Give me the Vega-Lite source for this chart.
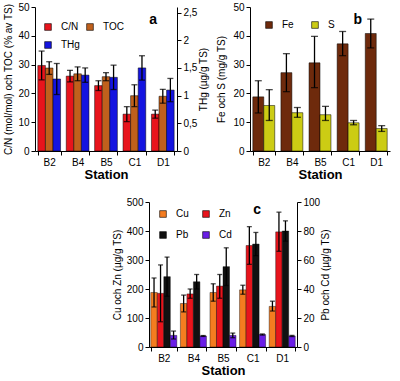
{
  "$schema": "https://vega.github.io/schema/vega-lite/v6.json",
  "padding": {"left": 3, "top": 2, "right": 2, "bottom": 2},
  "autosize": {"type": "pad"},
  "config": {
    "font": "Liberation Sans",
    "view": {"stroke": null},
    "axis": {"labelFontSize": 10, "titleFontSize": 10, "titleFontWeight": "normal", "domainColor": "#000", "tickColor": "#000", "labelColor": "#000", "titleColor": "#000", "grid": false, "tickSize": 4, "labelPadding": 2},
    "axisX": {"titleFontSize": 13, "titleFontWeight": "bold", "labelAngle": 0, "tickBand": "extent", "titlePadding": 1},
    "legend": {"labelFontSize": 10, "labelColor": "#000"}
  },
  "datasets": {
    "a": [
      {"station": "B2", "param": "C/N", "value": 29.7, "lo": 24.7, "hi": 34.7},
      {"station": "B4", "param": "C/N", "value": 26.0, "lo": 24.0, "hi": 28.0},
      {"station": "B5", "param": "C/N", "value": 22.7, "lo": 21.0, "hi": 24.4},
      {"station": "C1", "param": "C/N", "value": 12.8, "lo": 10.2, "hi": 15.4},
      {"station": "D1", "param": "C/N", "value": 12.8, "lo": 11.4, "hi": 14.2},
      {"station": "B2", "param": "TOC", "value": 28.8, "lo": 26.6, "hi": 31.0},
      {"station": "B4", "param": "TOC", "value": 26.8, "lo": 24.4, "hi": 29.2},
      {"station": "B5", "param": "TOC", "value": 25.8, "lo": 24.4, "hi": 27.2},
      {"station": "C1", "param": "TOC", "value": 19.2, "lo": 15.4, "hi": 23.0},
      {"station": "D1", "param": "TOC", "value": 19.0, "lo": 16.6, "hi": 21.4},
      {"station": "B2", "param": "THg", "value": 1.30, "lo": 1.02, "hi": 1.58},
      {"station": "B4", "param": "THg", "value": 1.37, "lo": 1.24, "hi": 1.50},
      {"station": "B5", "param": "THg", "value": 1.33, "lo": 1.11, "hi": 1.55},
      {"station": "C1", "param": "THg", "value": 1.50, "lo": 1.28, "hi": 1.72},
      {"station": "D1", "param": "THg", "value": 1.10, "lo": 0.89, "hi": 1.31}
    ],
    "b": [
      {"station": "B2", "elem": "Fe", "value": 18.8, "lo": 13.2, "hi": 24.4},
      {"station": "B4", "elem": "Fe", "value": 27.2, "lo": 20.6, "hi": 33.8},
      {"station": "B5", "elem": "Fe", "value": 30.6, "lo": 22.0, "hi": 39.8},
      {"station": "C1", "elem": "Fe", "value": 37.2, "lo": 33.1, "hi": 41.5},
      {"station": "D1", "elem": "Fe", "value": 40.8, "lo": 35.8, "hi": 45.8},
      {"station": "B2", "elem": "S", "value": 15.8, "lo": 10.6, "hi": 21.3},
      {"station": "B4", "elem": "S", "value": 13.3, "lo": 11.7, "hi": 15.1},
      {"station": "B5", "elem": "S", "value": 12.6, "lo": 10.6, "hi": 15.5},
      {"station": "C1", "elem": "S", "value": 9.8, "lo": 9.1, "hi": 10.6},
      {"station": "D1", "elem": "S", "value": 7.8, "lo": 6.8, "hi": 8.8}
    ],
    "c": [
      {"station": "B2", "metal": "Cu", "value": 188, "lo": 138, "hi": 238},
      {"station": "B4", "metal": "Cu", "value": 150, "lo": 121, "hi": 179},
      {"station": "B5", "metal": "Cu", "value": 188, "lo": 158, "hi": 218},
      {"station": "C1", "metal": "Cu", "value": 197, "lo": 182, "hi": 213},
      {"station": "D1", "metal": "Cu", "value": 140, "lo": 124, "hi": 158},
      {"station": "B2", "metal": "Zn", "value": 185, "lo": 87, "hi": 283},
      {"station": "B4", "metal": "Zn", "value": 183, "lo": 168, "hi": 200},
      {"station": "B5", "metal": "Zn", "value": 210, "lo": 168, "hi": 250},
      {"station": "C1", "metal": "Zn", "value": 350, "lo": 285, "hi": 415},
      {"station": "D1", "metal": "Zn", "value": 397, "lo": 330, "hi": 465},
      {"station": "B2", "metal": "Pb", "value": 48.5, "lo": 35, "hi": 62},
      {"station": "B4", "metal": "Pb", "value": 45, "lo": 40, "hi": 50},
      {"station": "B5", "metal": "Pb", "value": 55.4, "lo": 42.4, "hi": 68.4},
      {"station": "C1", "metal": "Pb", "value": 71, "lo": 63, "hi": 79},
      {"station": "D1", "metal": "Pb", "value": 80, "lo": 73, "hi": 87},
      {"station": "B2", "metal": "Cd", "value": 8, "lo": 5.5, "hi": 11},
      {"station": "B4", "metal": "Cd", "value": 7.6, "lo": 7.3, "hi": 7.9},
      {"station": "B5", "metal": "Cd", "value": 8, "lo": 6.4, "hi": 9.6},
      {"station": "C1", "metal": "Cd", "value": 8.6, "lo": 8.2, "hi": 9.0},
      {"station": "D1", "metal": "Cd", "value": 7.6, "lo": 7.2, "hi": 8.0}
    ]
  },
  "spacing": 16,
  "resolve": {"scale": {"x": "independent", "y": "independent", "xOffset": "independent", "color": "independent"}, "legend": {"color": "independent"}},
  "vconcat": [
    {
      "spacing": 7,
      "resolve": {"scale": {"x": "independent", "y": "independent", "xOffset": "independent", "color": "independent"}, "legend": {"color": "independent"}},
      "hconcat": [
        {
          "width": 142, "height": 144,
          "data": {"name": "a"},
          "title": {"text": "a", "anchor": "end", "frame": "group", "offset": 0, "dx": -20, "dy": 25, "fontSize": 14, "fontWeight": "bold", "color": "#000"},
          "encoding": {
            "x": {"field": "station", "type": "nominal", "sort": ["B2", "B4", "B5", "C1", "D1"], "scale": {"paddingInner": 0.2, "paddingOuter": 0.1}, "axis": {"title": "Station"}},
            "xOffset": {"field": "param", "type": "nominal", "scale": {"domain": ["C/N", "TOC", "THg"], "paddingInner": 0}}
          },
          "layer": [
            {
              "transform": [{"filter": "datum.param !== 'THg'"}],
              "layer": [
                {"mark": {"type": "bar", "stroke": "#000", "strokeWidth": 0.5},
                 "encoding": {
                   "y": {"field": "value", "type": "quantitative", "scale": {"domain": [0, 50]}, "axis": {"title": "C/N (mol/mol) och TOC (% av TS)", "values": [0, 10, 20, 30, 40, 50], "orient": "left", "titlePadding": 4}},
                   "color": {"field": "param", "type": "nominal", "scale": {"domain": ["C/N", "TOC", "THg"], "range": ["#e8141c", "#c0601c", "#1414e0"]},
                     "legend": {"orient": "none", "legendX": 8, "legendY": 15, "direction": "horizontal", "columns": 2, "title": null, "symbolType": "square", "symbolSize": 45, "symbolStrokeColor": "#000", "symbolStrokeWidth": 0.6, "columnPadding": 5, "rowPadding": 8, "labelOffset": 8}}
                 }},
                {"mark": {"type": "rule", "color": "#000", "strokeWidth": 1.3}, "encoding": {"y": {"field": "lo", "type": "quantitative", "axis": {"title": "C/N (mol/mol) och TOC (% av TS)", "values": [0, 10, 20, 30, 40, 50], "orient": "left", "titlePadding": 4}}, "y2": {"field": "hi"}}},
                {"mark": {"type": "tick", "color": "#000", "thickness": 1.3, "size": 6}, "encoding": {"y": {"field": "lo", "type": "quantitative", "axis": {"title": "C/N (mol/mol) och TOC (% av TS)", "values": [0, 10, 20, 30, 40, 50], "orient": "left", "titlePadding": 4}}}},
                {"mark": {"type": "tick", "color": "#000", "thickness": 1.3, "size": 6}, "encoding": {"y": {"field": "hi", "type": "quantitative", "axis": {"title": "C/N (mol/mol) och TOC (% av TS)", "values": [0, 10, 20, 30, 40, 50], "orient": "left", "titlePadding": 4}}}}
              ]
            },
            {
              "transform": [{"filter": "datum.param === 'THg'"}],
              "layer": [
                {"mark": {"type": "bar", "stroke": "#000", "strokeWidth": 0.5},
                 "encoding": {
                   "y": {"field": "value", "type": "quantitative", "scale": {"domain": [0, 2.5]}, "axis": {"title": "THg (µg/g TS)", "titleAngle": 270, "values": [0, 0.5, 1, 1.5, 2, 2.5], "orient": "right", "labelExpr": "replace(format(datum.value, '~g'), '.', ',')", "titlePadding": 12}},
                   "color": {"field": "param", "type": "nominal", "scale": {"domain": ["C/N", "TOC", "THg"], "range": ["#e8141c", "#c0601c", "#1414e0"]}}
                 }},
                {"mark": {"type": "rule", "color": "#000", "strokeWidth": 1.3}, "encoding": {"y": {"field": "lo", "type": "quantitative", "axis": {"title": "THg (µg/g TS)", "titleAngle": 270, "values": [0, 0.5, 1, 1.5, 2, 2.5], "orient": "right", "labelExpr": "replace(format(datum.value, '~g'), '.', ',')", "titlePadding": 12}}, "y2": {"field": "hi"}}},
                {"mark": {"type": "tick", "color": "#000", "thickness": 1.3, "size": 6}, "encoding": {"y": {"field": "lo", "type": "quantitative", "axis": {"title": "THg (µg/g TS)", "titleAngle": 270, "values": [0, 0.5, 1, 1.5, 2, 2.5], "orient": "right", "labelExpr": "replace(format(datum.value, '~g'), '.', ',')", "titlePadding": 12}}}},
                {"mark": {"type": "tick", "color": "#000", "thickness": 1.3, "size": 6}, "encoding": {"y": {"field": "hi", "type": "quantitative", "axis": {"title": "THg (µg/g TS)", "titleAngle": 270, "values": [0, 0.5, 1, 1.5, 2, 2.5], "orient": "right", "labelExpr": "replace(format(datum.value, '~g'), '.', ',')", "titlePadding": 12}}}}
              ]
            }
          ],
          "resolve": {"scale": {"y": "independent"}}
        },
        {
          "width": 140, "height": 144,
          "data": {"name": "b"},
          "title": {"text": "b", "anchor": "end", "frame": "group", "offset": 0, "dx": -28, "dy": 25, "fontSize": 14, "fontWeight": "bold", "color": "#000"},
          "encoding": {
            "x": {"field": "station", "type": "nominal", "sort": ["B2", "B4", "B5", "C1", "D1"], "scale": {"paddingInner": 0.22, "paddingOuter": 0.1}, "axis": {"title": "Station"}},
            "xOffset": {"field": "elem", "type": "nominal", "scale": {"domain": ["Fe", "S"], "paddingInner": 0}}
          },
          "layer": [
            {"mark": {"type": "bar", "stroke": "#000", "strokeWidth": 0.5},
             "encoding": {
               "y": {"field": "value", "type": "quantitative", "scale": {"domain": [0, 50]}, "axis": {"title": "Fe och S (mg/g TS)", "values": [0, 10, 20, 30, 40, 50], "titlePadding": 6}},
               "color": {"field": "elem", "type": "nominal", "scale": {"domain": ["Fe", "S"], "range": ["#6e2a0c", "#cccc14"]},
                 "legend": {"orient": "none", "legendX": 14, "legendY": 13, "direction": "horizontal", "columns": 2, "title": null, "symbolType": "square", "symbolSize": 45, "symbolStrokeColor": "#000", "symbolStrokeWidth": 0.6, "columnPadding": 16, "labelOffset": 8}}
             }},
            {"mark": {"type": "rule", "color": "#000", "strokeWidth": 1.3}, "encoding": {"y": {"field": "lo", "type": "quantitative", "axis": {"title": "Fe och S (mg/g TS)", "values": [0, 10, 20, 30, 40, 50], "titlePadding": 6}}, "y2": {"field": "hi"}}},
            {"mark": {"type": "tick", "color": "#000", "thickness": 1.3, "size": 7}, "encoding": {"y": {"field": "lo", "type": "quantitative", "axis": {"title": "Fe och S (mg/g TS)", "values": [0, 10, 20, 30, 40, 50], "titlePadding": 6}}}},
            {"mark": {"type": "tick", "color": "#000", "thickness": 1.3, "size": 7}, "encoding": {"y": {"field": "hi", "type": "quantitative", "axis": {"title": "Fe och S (mg/g TS)", "values": [0, 10, 20, 30, 40, 50], "titlePadding": 6}}}}
          ]
        }
      ]
    },
    {
      "spacing": 0,
      "resolve": {"scale": {"x": "independent", "y": "independent", "xOffset": "independent", "color": "independent"}, "legend": {"color": "independent"}},
      "hconcat": [
        {"width": 77, "height": 20, "data": {"values": [{}]}, "mark": {"type": "text", "text": " "}},
        {
          "width": 148, "height": 145,
          "data": {"name": "c"},
          "title": {"text": "c", "anchor": "end", "frame": "group", "offset": 0, "dx": -36, "dy": 20, "fontSize": 14, "fontWeight": "bold", "color": "#000"},
          "encoding": {
            "x": {"field": "station", "type": "nominal", "sort": ["B2", "B4", "B5", "C1", "D1"], "scale": {"paddingInner": 0.12, "paddingOuter": 0.06}, "axis": {"title": "Station"}},
            "xOffset": {"field": "metal", "type": "nominal", "scale": {"domain": ["Cu", "Zn", "Pb", "Cd"], "paddingInner": 0}}
          },
          "layer": [
            {
              "transform": [{"filter": "datum.metal === 'Cu' || datum.metal === 'Zn'"}],
              "layer": [
                {"mark": {"type": "bar", "stroke": "#000", "strokeWidth": 0.4},
                 "encoding": {
                   "y": {"field": "value", "type": "quantitative", "scale": {"domain": [0, 500]}, "axis": {"title": "Cu och Zn (µg/g TS)", "values": [0, 100, 200, 300, 400, 500], "orient": "left", "titlePadding": 4}},
                   "color": {"field": "metal", "type": "nominal", "scale": {"domain": ["Cu", "Zn", "Pb", "Cd"], "range": ["#f47c20", "#e8141c", "#111111", "#6a1ee6"]},
                     "legend": {"orient": "none", "legendX": 9, "legendY": 7, "direction": "horizontal", "columns": 2, "title": null, "symbolType": "square", "symbolSize": 45, "symbolStrokeColor": "#000", "symbolStrokeWidth": 0.6, "columnPadding": 12, "rowPadding": 11, "labelOffset": 8}}
                 }},
                {"mark": {"type": "rule", "color": "#000", "strokeWidth": 1.3}, "encoding": {"y": {"field": "lo", "type": "quantitative", "axis": {"title": "Cu och Zn (µg/g TS)", "values": [0, 100, 200, 300, 400, 500], "orient": "left", "titlePadding": 4}}, "y2": {"field": "hi"}}},
                {"mark": {"type": "tick", "color": "#000", "thickness": 1.3, "size": 5}, "encoding": {"y": {"field": "lo", "type": "quantitative", "axis": {"title": "Cu och Zn (µg/g TS)", "values": [0, 100, 200, 300, 400, 500], "orient": "left", "titlePadding": 4}}}},
                {"mark": {"type": "tick", "color": "#000", "thickness": 1.3, "size": 5}, "encoding": {"y": {"field": "hi", "type": "quantitative", "axis": {"title": "Cu och Zn (µg/g TS)", "values": [0, 100, 200, 300, 400, 500], "orient": "left", "titlePadding": 4}}}}
              ]
            },
            {
              "transform": [{"filter": "datum.metal === 'Pb' || datum.metal === 'Cd'"}],
              "layer": [
                {"mark": {"type": "bar", "stroke": "#000", "strokeWidth": 0.4},
                 "encoding": {
                   "y": {"field": "value", "type": "quantitative", "scale": {"domain": [0, 100]}, "axis": {"title": "Pb och Cd (µg/g TS)", "titleAngle": 270, "values": [0, 20, 40, 60, 80, 100], "orient": "right", "titlePadding": 11}},
                   "color": {"field": "metal", "type": "nominal", "scale": {"domain": ["Cu", "Zn", "Pb", "Cd"], "range": ["#f47c20", "#e8141c", "#111111", "#6a1ee6"]}}
                 }},
                {"mark": {"type": "rule", "color": "#000", "strokeWidth": 1.3}, "encoding": {"y": {"field": "lo", "type": "quantitative", "axis": {"title": "Pb och Cd (µg/g TS)", "titleAngle": 270, "values": [0, 20, 40, 60, 80, 100], "orient": "right", "titlePadding": 11}}, "y2": {"field": "hi"}}},
                {"mark": {"type": "tick", "color": "#000", "thickness": 1.3, "size": 5}, "encoding": {"y": {"field": "lo", "type": "quantitative", "axis": {"title": "Pb och Cd (µg/g TS)", "titleAngle": 270, "values": [0, 20, 40, 60, 80, 100], "orient": "right", "titlePadding": 11}}}},
                {"mark": {"type": "tick", "color": "#000", "thickness": 1.3, "size": 5}, "encoding": {"y": {"field": "hi", "type": "quantitative", "axis": {"title": "Pb och Cd (µg/g TS)", "titleAngle": 270, "values": [0, 20, 40, 60, 80, 100], "orient": "right", "titlePadding": 11}}}}
              ]
            }
          ],
          "resolve": {"scale": {"y": "independent"}}
        }
      ]
    }
  ]
}
